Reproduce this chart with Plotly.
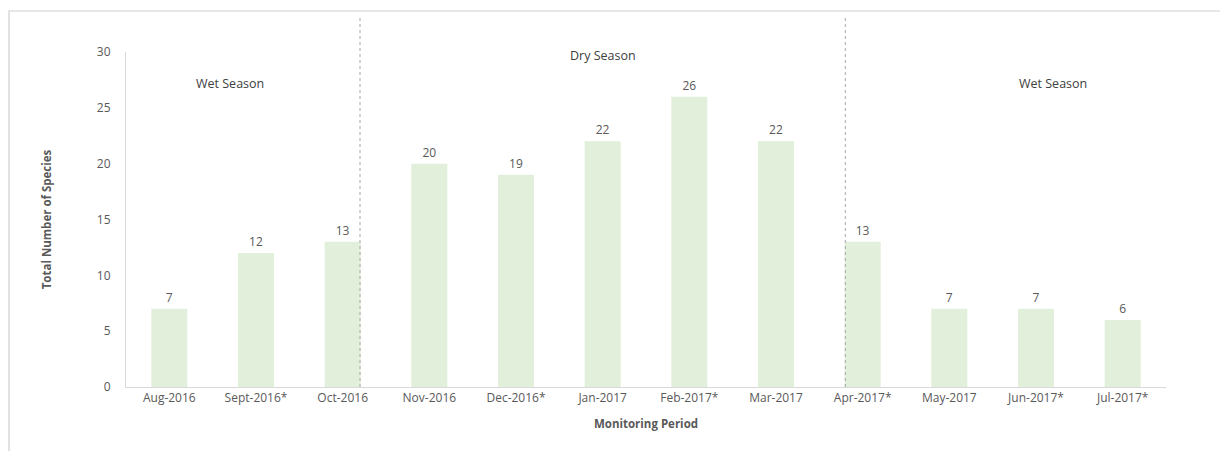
import plotly.graph_objects as go

categories = ["Aug-2016", "Sept-2016*", "Oct-2016", "Nov-2016", "Dec-2016*", "Jan-2017",
              "Feb-2017*", "Mar-2017", "Apr-2017*", "May-2017", "Jun-2017*", "Jul-2017*"]
species = [7, 12, 13, 20, 19, 22, 26, 22, 13, 7, 7, 6]
y_ticks = [0, 5, 10, 15, 20, 25, 30]
season_labels = ["Wet Season", "Dry Season", "Wet Season"]
season_label_x = [0.7, 5.0, 10.2]
season_label_y = [27.2, 29.7, 27.2]
season_dividers = [2.2, 7.8]

FONT = "Open Sans"
GREY = "#595959"

fig = go.Figure()
fig.add_trace(go.Bar(
    x=list(range(len(categories))), y=species,
    marker=dict(color="#E2EFDA", line=dict(width=0)),
    width=0.415,
    text=[str(v) for v in species], textposition="outside",
    textfont=dict(family=FONT, size=12, color=GREY),
    cliponaxis=False,
))

for xv in season_dividers:
    fig.add_shape(type="line", xref="x", yref="paper", x0=xv, x1=xv, y0=0, y1=1.11,
                  line=dict(color="#A6A6A6", width=1, dash="dot"))

for lab, lx, ly in zip(season_labels, season_label_x, season_label_y):
    fig.add_annotation(x=lx, y=ly, xref="x", yref="y", text=lab, showarrow=False,
                       font=dict(family=FONT, size=12.5, color="#404040"))

# chart area border
fig.add_shape(type="rect", xref="paper", yref="paper", x0=-0.1125, x1=1.0545,
              y0=-0.25, y1=1.1224, line=dict(color="#D0D0D0", width=1.2), layer="below")

fig.update_layout(
    width=1220, height=443,
    margin=dict(l=118, r=62, t=44, b=64),
    plot_bgcolor="white", paper_bgcolor="white",
    showlegend=False,
    font=dict(family=FONT, color=GREY, size=12),
    xaxis=dict(
        tickmode="array", tickvals=list(range(len(categories))), ticktext=categories,
        range=[-0.5, len(categories) - 0.5],
        showline=True, linecolor="#D9D9D9", linewidth=1, showgrid=False, ticks="",
        tickfont=dict(family=FONT, size=12, color=GREY),
        title=dict(text="<b>Monitoring Period</b>", font=dict(family=FONT, size=11.5, color=GREY), standoff=14),
    ),
    yaxis=dict(
        range=[0, 30], tickmode="array", tickvals=y_ticks,
        showline=True, linecolor="#D9D9D9", linewidth=1, showgrid=False, ticks="",
        zeroline=False,
        tickfont=dict(family=FONT, size=12, color=GREY),
        ticklabelstandoff=12,
        title=dict(text="<b>Total Number of Species</b>", font=dict(family=FONT, size=11.5, color=GREY), standoff=42),
    ),
)

fig.write_html("out.html")
